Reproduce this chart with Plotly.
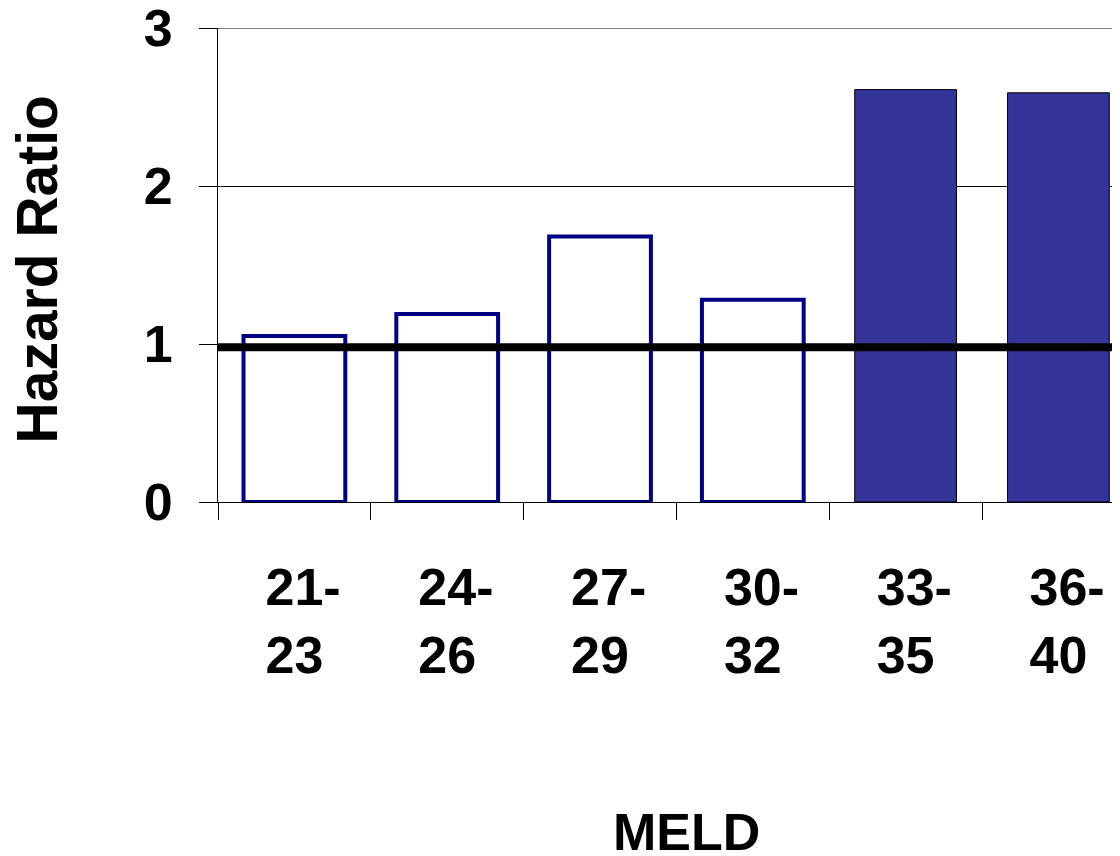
import plotly.graph_objects as go

# ---- data ----
categories = ["21-23", "24-26", "27-29", "30-32", "33-35", "36-40"]
hazard_ratio = [1.05, 1.19, 1.68, 1.28, 2.61, 2.59]
filled = [False, False, False, False, True, True]
ref_line_value = 0.98
y_ticks = [0, 1, 2, 3]
x_title = "MELD"
y_title = "Hazard Ratio"

FONT = "Liberation Sans, Arial, Helvetica, sans-serif"
NAVY = "#000080"
FILL = "#333399"

fill_colors = [FILL if f else "white" for f in filled]
line_colors = ["black" if f else NAVY for f in filled]
line_widths = [1 if f else 4 for f in filled]


def two_line(label):
    a, b = label.split("-")
    # invisible leading dash so the first line aligns like the original hanging hyphen
    return f"<span style='color:rgba(0,0,0,0)'>-</span>{a}-<br>{b}"


tick_text = [two_line(c) for c in categories]

fig = go.Figure()
fig.add_trace(go.Bar(
    x=categories,
    y=hazard_ratio,
    marker=dict(color=fill_colors,
                line=dict(color=line_colors, width=line_widths)),
    showlegend=False,
))

# top gridline at the top of the range
fig.add_shape(type="line", xref="paper", x0=0, x1=1, yref="y",
              y0=y_ticks[-1], y1=y_ticks[-1],
              line=dict(color="black", width=1), layer="below")

fig.add_shape(type="line", xref="paper", x0=0, x1=1, yref="y",
              y0=ref_line_value, y1=ref_line_value,
              line=dict(color="black", width=8), layer="above")

# x-axis title (placed slightly right of centre, as in the original)
fig.add_annotation(text=x_title, xref="paper", yref="paper",
                   x=0.519, y=-0.696, xanchor="center", yanchor="middle",
                   showarrow=False,
                   font=dict(family=FONT, size=52, weight="bold", color="black"))

# y-axis title
fig.add_annotation(text=y_title, xref="paper", yref="paper",
                   x=-0.2007, y=0.4905, xanchor="center", yanchor="middle",
                   textangle=-90, showarrow=False,
                   font=dict(family=FONT, size=57, weight="bold", color="black"))

# the page body adds an 8px margin, so the figure is 8px smaller than the window
fig.update_layout(
    width=1112, height=848,
    margin=dict(l=210, r=0, t=20, b=354),
    paper_bgcolor="white", plot_bgcolor="white",
    bargap=0.334,
    font=dict(family=FONT, color="black"),
    xaxis=dict(
        type="category",
        range=[-0.5, 5.403],
        tickmode="array", tickvals=categories, ticktext=tick_text,
        tickson="boundaries",
        ticks="outside", ticklen=17, tickcolor="black", tickwidth=1,
        showline=True, linecolor="black", linewidth=1,
        showgrid=False,
        tickfont=dict(family=FONT, size=52, weight="bold"),
        ticklabelstandoff=40,
        automargin=False,
    ),
    yaxis=dict(
        range=[0, 3],
        tickmode="array", tickvals=y_ticks,
        ticks="outside", ticklen=18, tickcolor="black", tickwidth=1,
        showline=True, linecolor="black", linewidth=1,
        showgrid=True, gridcolor="black", gridwidth=1,
        zeroline=False,
        tickfont=dict(family=FONT, size=52, weight="bold"),
        ticklabelstandoff=16,
        ticklabeloverflow="allow",
        automargin=False,
    ),
)

fig.write_html("out.html")
